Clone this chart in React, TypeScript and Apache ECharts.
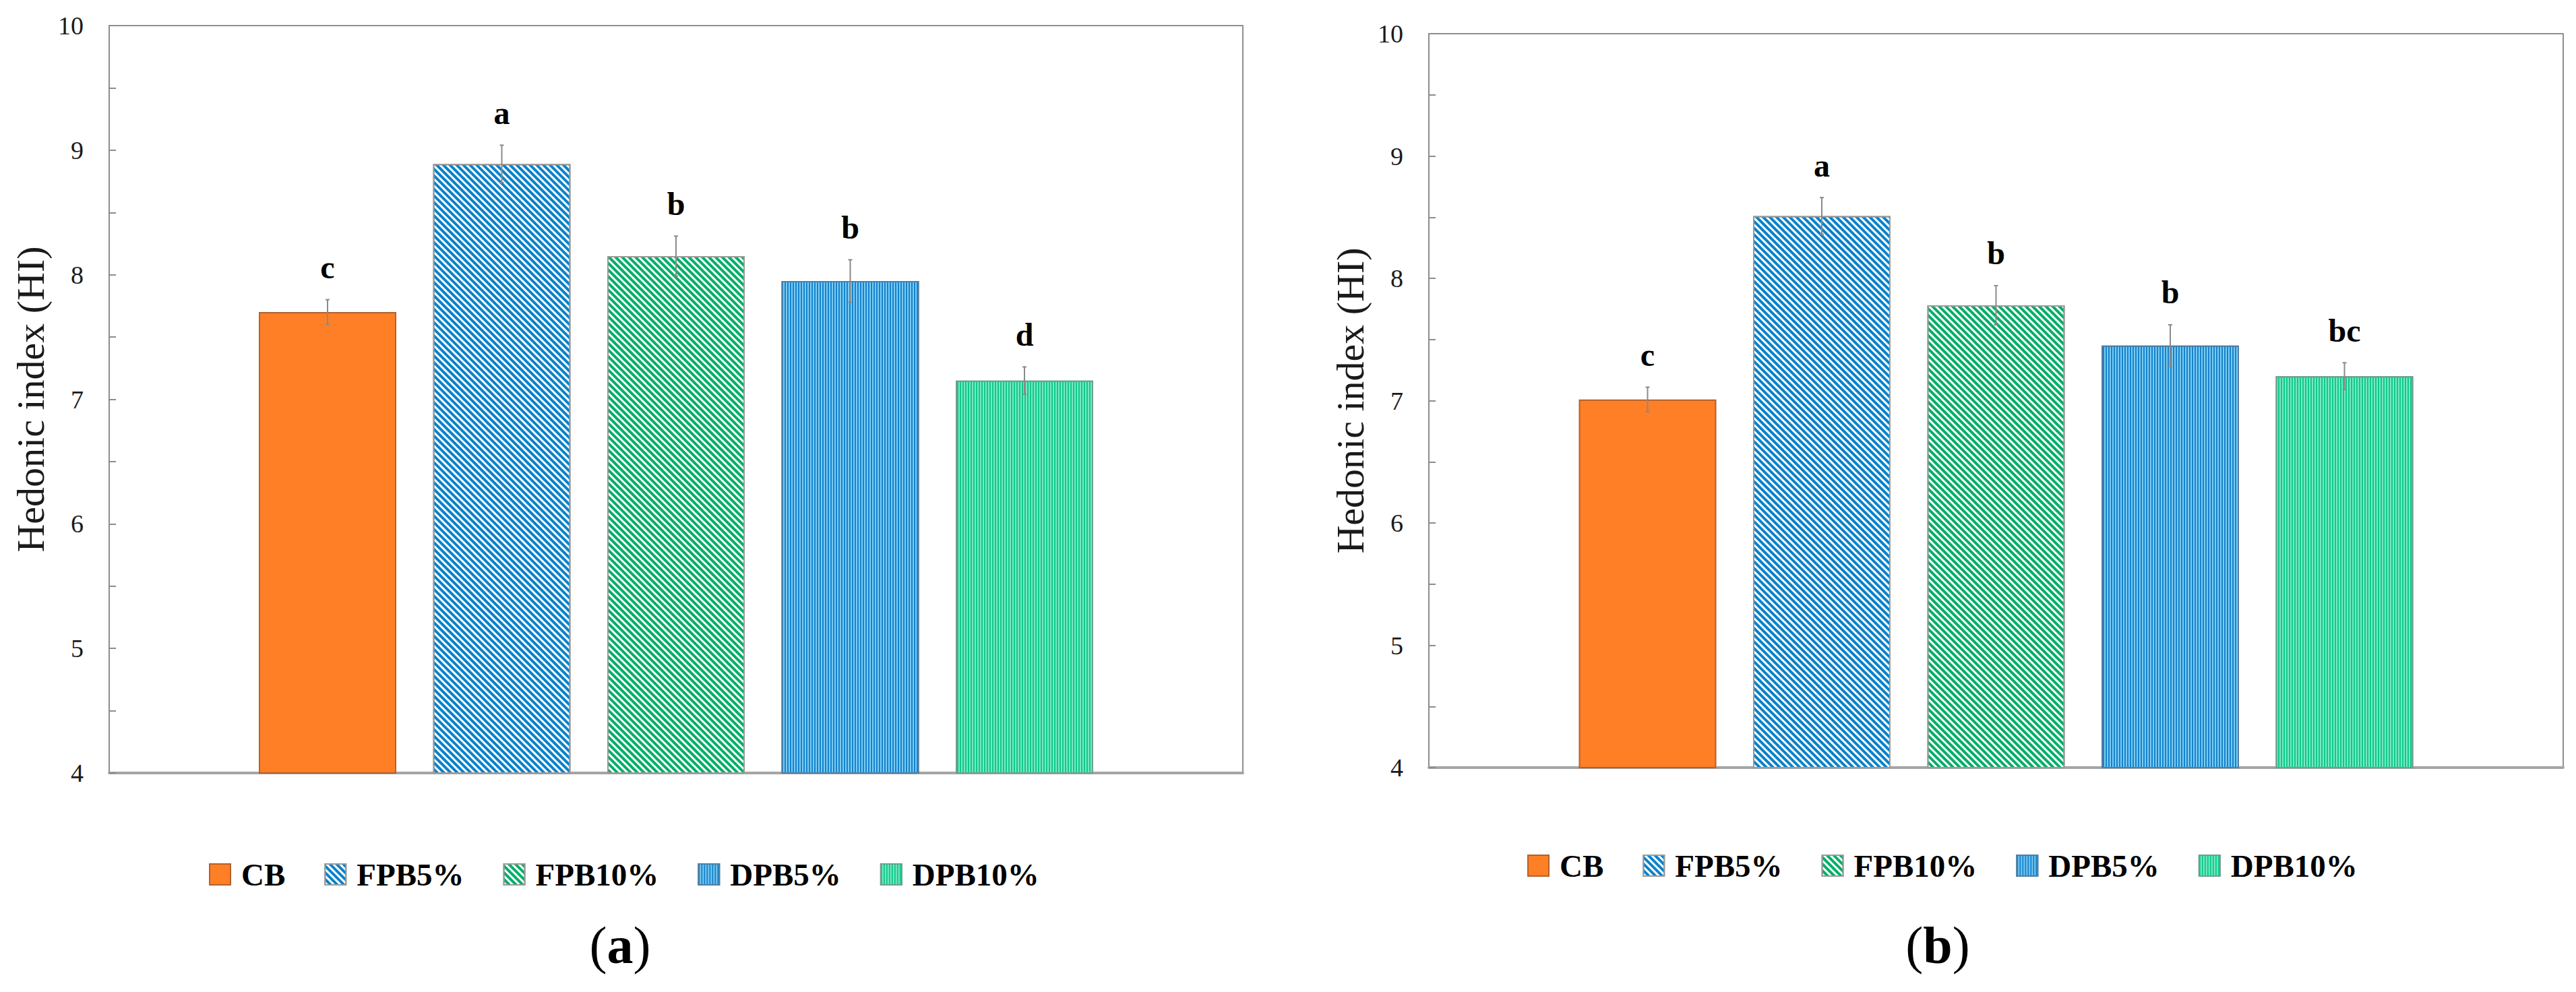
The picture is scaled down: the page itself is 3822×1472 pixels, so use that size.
import React, { useEffect, useRef } from "react";
import * as echarts from "echarts";

// ---- data ----
const seriesNames = ["CB", "FPB5%", "FPB10%", "DPB5%", "DPB10%"];
const meansA = [7.7, 8.89, 8.15, 7.95, 7.15];
const errorsA = [0.1, 0.15, 0.16, 0.17, 0.11];
const lettersA = ["c", "a", "b", "b", "d"];
const meansB = [7.01, 8.51, 7.78, 7.45, 7.2];
const errorsB = [0.1, 0.15, 0.16, 0.17, 0.11];
const lettersB = ["c", "a", "b", "b", "bc"];
const yMin = 4;
const yMax = 10;
const yInterval = 1;
const yAxisTitle = "Hedonic index (HI)";
const captionLetters = ["a", "b"];

// ---- styles ----
const FONT = '"Liberation Serif", "Times New Roman", serif';
const BAR_WIDTH = 204;
const BAR_STEP = 258.5;
const BAR_GAP = ((BAR_STEP - BAR_WIDTH) / BAR_WIDTH) * 100 + "%";

const diag = (color: string) => ({
  symbol: "rect",
  color,
  dashArrayX: [1, 0],
  dashArrayY: [3.4, 2.8],
  rotation: Math.PI / 4,
  symbolSize: 1,
});
const vert = (color: string) => ({
  symbol: "rect",
  color,
  dashArrayX: [2, 2],
  dashArrayY: [1, 0],
  symbolSize: 1,
});

const seriesStyles: any[] = [
  { color: "#FF7F27", borderColor: "#B3612B", borderWidth: 2 },
  { color: "#FFFFFF", borderColor: "#9A9A9A", borderWidth: 2, decal: diag("#0A82CA") },
  { color: "#FFFFFF", borderColor: "#9A9A9A", borderWidth: 2, decal: diag("#00AE68") },
  { color: "#7CCBF2", borderColor: "#4F7FA3", borderWidth: 2, decal: vert("#1583CC") },
  { color: "#78E9C2", borderColor: "#6F9F8C", borderWidth: 2, decal: vert("#10C98A") },
];

const grids = [
  { left: 162, top: 38, width: 1682, height: 1109 },
  { left: 2120, top: 50, width: 1683, height: 1089 },
];

function buildOption() {
  const datasets = [
    { means: meansA, errors: errorsA, letters: lettersA },
    { means: meansB, errors: errorsB, letters: lettersB },
  ];

  const series: any[] = [];
  datasets.forEach((ds, g) => {
    seriesNames.forEach((name, i) => {
      series.push({
        type: "bar",
        name,
        xAxisIndex: g,
        yAxisIndex: g,
        barWidth: BAR_WIDTH,
        barGap: BAR_GAP,
        itemStyle: seriesStyles[i],
        emphasis: { disabled: true },
        data: [ds.means[i]],
      });
    });
    series.push({
      type: "custom",
      name: "err" + g,
      xAxisIndex: g,
      yAxisIndex: g,
      z: 5,
      encode: { x: 0, y: 1 },
      data: ds.means.map((m, i) => [0, m, ds.errors[i], i]),
      renderItem: (params: any, api: any) => {
        const m = api.value(1);
        const e = api.value(2);
        const i = api.value(3);
        const c = api.coord([0, m]);
        const x = c[0] + (i - 2) * BAR_STEP;
        const yt = api.coord([0, m + e])[1];
        const yb = api.coord([0, m - e])[1];
        const ls = { stroke: "#8A8A8A", lineWidth: 2 };
        return {
          type: "group",
          children: [
            { type: "line", shape: { x1: x, y1: yt, x2: x, y2: yb }, style: ls },
            { type: "line", shape: { x1: x - 3, y1: yt, x2: x + 3, y2: yt }, style: ls },
            { type: "line", shape: { x1: x - 3, y1: yb, x2: x + 3, y2: yb }, style: ls },
            {
              type: "text",
              style: {
                text: ds.letters[i],
                x,
                y: yt - 24,
                align: "center",
                verticalAlign: "bottom",
                fontFamily: FONT,
                fontWeight: "bold",
                fontSize: 48,
                fill: "#000",
              },
            },
          ],
        };
      },
    });
  });

  const xAxis = grids.map((_, g) => ({
    type: "category",
    gridIndex: g,
    data: [""],
    axisLine: { show: true, lineStyle: { color: "#A4A4A4", width: 4 } },
    axisTick: { show: false },
    axisLabel: { show: false },
    splitLine: { show: false },
  }));

  const yAxis = grids.map((_, g) => ({
    type: "value",
    gridIndex: g,
    min: yMin,
    max: yMax,
    interval: yInterval,
    axisLine: { show: true, lineStyle: { color: "#8C8C8C", width: 2 } },
    axisTick: { show: true, inside: true, length: 10, lineStyle: { color: "#8C8C8C", width: 2 } },
    minorTick: { show: true, splitNumber: 2, length: 10, lineStyle: { color: "#8C8C8C", width: 2 } },
    splitLine: { show: false },
    axisLabel: { fontFamily: FONT, fontSize: 38, color: "#1A1A1A", margin: 38 },
    name: yAxisTitle,
    nameLocation: "middle",
    nameGap: 88,
    nameTextStyle: { fontFamily: FONT, fontSize: 58, color: "#1A1A1A" },
  }));

  const legendCommon = {
    orient: "horizontal",
    data: seriesNames,
    icon: "rect",
    itemWidth: 31,
    itemHeight: 31,
    itemGap: 58,
    padding: 0,
    selectedMode: false,
    textStyle: {
      fontFamily: FONT,
      fontSize: 47,
      fontWeight: "bold",
      color: "#000",
      padding: [0, 0, 0, 11],
    },
  };

  const captionPos = [
    { x: 920, y: 1402 },
    { x: 2875, y: 1402 },
  ];

  return {
    animation: false,
    backgroundColor: "#FFFFFF",
    grid: grids.map((g) => ({
      ...g,
      show: true,
      borderColor: "#8F8F8F",
      borderWidth: 2,
      backgroundColor: "transparent",
    })),
    xAxis,
    yAxis,
    legend: [
      { ...legendCommon, left: 310, top: 1274 },
      { ...legendCommon, left: 2266, top: 1261 },
    ],
    graphic: captionLetters.map((l, k) => ({
      type: "text",
      x: captionPos[k].x,
      y: captionPos[k].y,
      style: {
        text: "{p|(}{l|" + l + "}{p|)}",
        align: "center",
        verticalAlign: "middle",
        rich: {
          p: { fontFamily: FONT, fontSize: 78, fill: "#000", color: "#000" },
          l: { fontFamily: FONT, fontSize: 78, fontWeight: "bold", fill: "#000", color: "#000" },
        },
      },
    })),
    series,
  };
}

export default function App() {
  const ref = useRef<HTMLDivElement>(null);
  useEffect(() => {
    if (!ref.current) return;
    const chart = echarts.init(ref.current, undefined, { renderer: "svg" });
    chart.setOption(buildOption() as any);
    return () => chart.dispose();
  }, []);
  return (
    <div
      ref={ref}
      style={{ position: "fixed", left: 0, top: 0, width: 3822, height: 1472, background: "#fff" }}
    />
  );
}
